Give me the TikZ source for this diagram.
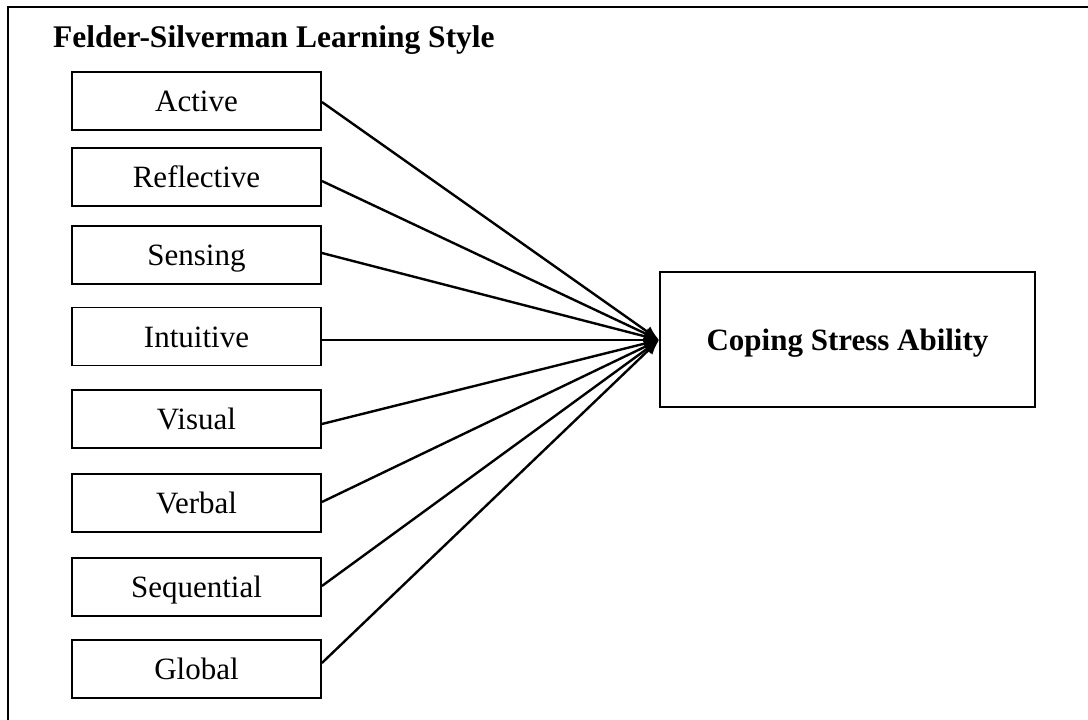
\documentclass[tikz,border=0pt]{standalone}
\usepackage{fontspec}
\setmainfont{Liberation Serif}
\usetikzlibrary{arrows.meta}
\begin{document}
\begin{tikzpicture}[x=1pt,y=-1pt,
  stylebox/.style={draw,line width=1.8pt,minimum width=249pt,minimum height=58pt,inner sep=0pt,text height=21pt,text depth=0pt,font=\fontsize{31}{36}\selectfont},
  outbox/.style={draw,line width=1.8pt,minimum width=375pt,minimum height=135pt,inner sep=0pt,text height=21pt,text depth=-2pt,font=\fontsize{31}{36}\selectfont\bfseries},
  link/.style={line width=2.4pt,-{Latex[length=15pt,width=12pt]}},
  frame/.style={line width=2pt}]
\useasboundingbox (0,0) rectangle (1088,720);
\draw[frame] (8,725) -- (8,7) -- (1093,7);
\node[anchor=base west,font=\fontsize{31.5}{36}\selectfont\bfseries,inner sep=0pt] (title) at (53,47) {Felder-Silverman Learning Style};
\node[stylebox] (b1) at (196.5,101) {Active};
\node[stylebox] (b2) at (196.5,177) {Reflective};
\node[stylebox] (b3) at (196.5,255) {Sensing};
\node[stylebox] (b4) at (196.5,336.5) {Intuitive};
\node[stylebox] (b5) at (196.5,419) {Visual};
\node[stylebox] (b6) at (196.5,503) {Verbal};
\node[stylebox] (b7) at (196.5,587) {Sequential};
\node[stylebox] (b8) at (196.5,669) {Global};
\node[outbox] (c) at (847.5,339.5) {Coping Stress Ability};
\coordinate (tip) at ([yshift=-0.5pt]c.west);
\draw[link] ([yshift=-1pt]b1.east) -- (tip);
\draw[link] ([yshift=-4pt]b2.east) -- (tip);
\draw[link] ([yshift=2pt]b3.east) -- (tip);
\draw[link] ([yshift=-3.5pt]b4.east) -- (tip);
\draw[link] ([yshift=-5pt]b5.east) -- (tip);
\draw[link] ([yshift=1pt]b6.east) -- (tip);
\draw[link] ([yshift=1pt]b7.east) -- (tip);
\draw[link] ([yshift=6pt]b8.east) -- (tip);
\end{tikzpicture}
\end{document}
